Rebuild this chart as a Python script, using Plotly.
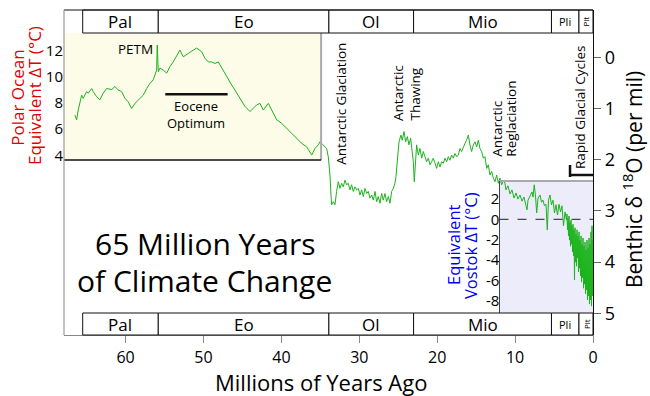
import plotly.graph_objects as go

# ---------------- data (age in Myr before present, benthic d18O in per mil) ----------------
age_paleo_eo = [66.50, 66.28, 66.07, 65.64, 65.43, 64.99, 64.79, 64.35, 64.15, 63.71,
                63.29, 62.86, 62.43, 61.78, 61.36, 60.94, 60.50, 60.08, 59.65, 59.22,
                58.79, 58.15, 57.73, 57.29, 56.87, 56.44, 56.23, 56.01, 55.93, 55.80,
                55.58, 55.16, 54.72, 54.30, 53.88, 53.23, 53.02, 52.59, 51.95, 51.31,
                50.87, 50.23, 49.81, 49.38, 48.95, 48.52, 48.10, 47.66, 47.24, 46.82,
                46.38, 45.96, 45.31, 44.67, 44.03, 43.61, 43.17, 42.75, 42.32, 41.68,
                41.25, 40.60, 39.96, 39.32, 38.68, 38.04, 37.39, 36.75, 36.11, 35.69,
                35.26, 35.04, 34.62, 34.19, 33.98]
d18o_paleo_eo = [1.13, 1.22, 1.03, 0.74, 0.80, 0.67, 0.70, 0.61, 0.67, 0.77,
                 0.83, 0.70, 0.61, 0.63, 0.57, 0.64, 0.67, 0.80, 0.87, 1.00,
                 0.90, 0.80, 0.74, 0.61, 0.51, 0.44, 0.35, 0.25, -0.24, 0.28,
                 0.21, 0.25, 0.31, 0.18, 0.09, -0.08, -0.14, -0.01, -0.08, -0.14,
                 -0.18, -0.11, 0.02, 0.09, 0.09, 0.12, 0.09, 0.21, 0.31, 0.41,
                 0.54, 0.64, 0.80, 0.96, 1.06, 1.00, 0.93, 0.90, 1.03, 0.90,
                 1.03, 1.22, 1.29, 1.39, 1.48, 1.58, 1.68, 1.75, 1.91, 1.78,
                 1.71, 1.65, 1.71, 1.78, 1.94]

age_oli_mio = [33.76, 33.63, 33.55, 33.33, 33.12, 32.91, 32.69, 32.48, 32.26, 32.05,
               31.84, 31.62, 31.41, 31.19, 30.98, 30.77, 30.55, 30.34, 30.12, 29.91,
               29.70, 29.48, 29.27, 29.05, 28.84, 28.63, 28.41, 28.20, 27.98, 27.77,
               27.56, 27.34, 27.13, 26.92, 26.70, 26.49, 26.27, 26.06, 25.84, 25.63,
               25.42, 25.29, 25.07, 24.90, 24.65, 24.48, 24.26, 24.05, 23.83, 23.62,
               23.41, 23.19, 23.06, 22.94, 22.76, 22.64, 22.42, 22.21, 21.99, 21.78,
               21.57, 21.35, 21.14, 20.92, 20.71, 20.50, 20.28, 20.07, 19.86, 19.64,
               19.43, 19.21, 19.00, 18.78, 18.57, 18.36, 18.14, 17.93, 17.72, 17.50,
               17.29, 17.07, 16.86, 16.65, 16.43, 16.22, 16.00, 15.79, 15.58, 15.36,
               15.15, 14.93, 14.72, 14.51, 14.29, 14.08, 13.86, 13.65, 13.44, 13.22,
               13.01, 12.79, 12.58, 12.37, 12.15, 11.94, 11.72, 11.51, 11.30]
d18o_oli_mio = [2.30, 2.69, 2.88, 2.82, 2.88, 2.62, 2.43, 2.56, 2.46, 2.53,
                2.40, 2.49, 2.46, 2.59, 2.49, 2.62, 2.53, 2.59, 2.56, 2.69,
                2.59, 2.72, 2.56, 2.66, 2.62, 2.75, 2.69, 2.79, 2.62, 2.82,
                2.72, 2.85, 2.66, 2.79, 2.66, 2.82, 2.72, 2.85, 2.62, 2.56,
                2.46, 2.33, 1.91, 1.65, 1.52, 1.62, 1.45, 1.65, 1.55, 1.71,
                1.58, 1.84, 2.04, 2.43, 1.97, 1.71, 1.91, 1.78, 1.97, 1.84,
                1.94, 2.04, 1.97, 2.10, 2.04, 1.97, 2.07, 2.17, 2.04, 2.14,
                2.04, 2.07, 1.97, 2.04, 1.94, 2.01, 1.91, 1.97, 1.88, 1.94,
                1.91, 1.78, 1.84, 1.75, 1.68, 1.62, 1.52, 1.71, 1.84, 1.71,
                1.65, 1.75, 1.62, 1.78, 1.84, 1.97, 1.94, 2.17, 2.10, 2.30,
                2.23, 2.36, 2.43, 2.30, 2.46, 2.36, 2.49, 2.40, 2.46]

age_late_mio_pli = [11.17, 10.91, 10.65, 10.40, 10.14, 9.88, 9.63, 9.37, 9.11, 8.86,
                    8.60, 8.47, 8.34, 8.09, 7.83, 7.70, 7.54, 7.38, 7.23, 7.06,
                    6.80, 6.61, 6.42, 6.23, 6.03, 5.87, 5.71, 5.52, 5.33, 5.13,
                    4.94, 4.75, 4.56, 4.36, 4.17, 3.98, 3.79, 3.59, 3.40]
d18o_late_mio_pli = [2.59, 2.51, 2.67, 2.59, 2.75, 2.65, 2.77, 2.69, 2.81, 2.73,
                     2.90, 2.98, 2.79, 2.71, 2.63, 2.73, 2.49, 2.71, 3.04, 2.75,
                     2.69, 2.83, 2.79, 2.90, 2.87, 3.37, 2.79, 2.69, 2.88, 2.79,
                     3.04, 2.88, 3.08, 2.87, 3.02, 2.90, 3.29, 3.02, 3.18]

age_glacial = [3.338, 3.273, 3.209, 3.145, 3.081, 3.017, 2.953, 2.888, 2.824, 2.760,
               2.696, 2.632, 2.567, 2.503, 2.439, 2.375, 2.311, 2.246, 2.182, 2.118,
               2.054, 1.990, 1.926, 1.861, 1.797, 1.733, 1.669, 1.605, 1.540, 1.476,
               1.412, 1.348, 1.284, 1.220, 1.155, 1.091, 1.027, 0.963, 0.899, 0.834,
               0.770, 0.706, 0.642, 0.578, 0.513, 0.449, 0.385, 0.321, 0.257, 0.193,
               0.128, 0.064, 0.013]
d18o_glacial = [3.06, 3.37, 3.14, 3.49, 3.10, 3.57, 3.22, 3.69, 3.18, 3.65,
                3.29, 3.80, 3.26, 3.88, 3.37, 4.35, 3.33, 4.00, 3.45, 4.08,
                3.37, 3.92, 3.49, 4.19, 3.41, 4.12, 3.57, 4.27, 3.49, 4.39,
                3.65, 4.31, 3.53, 4.51, 3.69, 4.43, 3.61, 4.62, 3.76, 4.54,
                3.57, 4.74, 3.72, 4.66, 3.53, 4.82, 3.65, 4.74, 3.41, 4.86,
                3.29, 4.66, 3.57]

epoch_names = ["Pal", "Eo", "Ol", "Mio", "Pli", "Plt"]
epoch_start = [65.5, 55.8, 33.9, 23.03, 5.33, 1.8]
epoch_end = [55.8, 33.9, 23.03, 5.33, 1.8, 0.0]

x_ticks = [60, 50, 40, 30, 20, 10, 0]
d18o_ticks = [0, 1, 2, 3, 4, 5]
polar_ticks = [4, 6, 8, 10, 12]
vostok_ticks = [-8, -6, -4, -2, 0, 2]

age_myr = age_paleo_eo + age_oli_mio + age_late_mio_pli + age_glacial
d18o_permil = d18o_paleo_eo + d18o_oli_mio + d18o_late_mio_pli + d18o_glacial

# ---------------- layout helpers ----------------
W, H = 650, 396
L, R, T, B = 64, 593, 10, 335
FONT = "Open Sans"


def pp(x, y):
    """pixel -> paper coordinates"""
    return (x - L) / (R - L), (B - y) / (B - T)


fig = go.Figure()
fig.add_trace(go.Scatter(x=age_myr, y=d18o_permil, mode="lines",
                         line=dict(color="#1cb31c", width=1),
                         yaxis="y", showlegend=False, hoverinfo="skip"))

shapes = []
# Polar ocean (yellow) box
yb_top = pp(0, 33)[1]
yb_bot = pp(0, 160)[1]
shapes.append(dict(type="rect", xref="x", yref="paper", x0=67.9, x1=34.9,
                   y0=yb_bot, y1=yb_top, fillcolor="#fcfce9",
                   line=dict(width=0), layer="below"))
shapes.append(dict(type="line", xref="x", yref="paper", x0=34.9, x1=34.9,
                   y0=yb_bot, y1=yb_top, line=dict(color="#aaaaaa", width=2)))
shapes.append(dict(type="line", xref="x", yref="paper", x0=67.9, x1=34.9,
                   y0=yb_bot, y1=yb_bot, line=dict(color="#111111", width=1.3)))
# Vostok (blue) box
bb_top = pp(0, 181)[1]
bb_bot = pp(0, 313)[1]
shapes.append(dict(type="rect", xref="x", yref="paper", x0=12, x1=0,
                   y0=bb_bot, y1=bb_top, fillcolor="#ececfa",
                   line=dict(width=0), layer="below"))
shapes.append(dict(type="line", xref="x", yref="paper", x0=12, x1=0,
                   y0=bb_top, y1=bb_top, line=dict(color="#aaaaaa", width=2)))
shapes.append(dict(type="line", xref="x", yref="paper", x0=12, x1=12,
                   y0=bb_bot, y1=bb_top, line=dict(color="#444444", width=1)))
shapes.append(dict(type="line", xref="x", yref="y3", x0=12, x1=0, y0=0, y1=0,
                   line=dict(color="#222222", width=1, dash="dash")))

# epoch rows
top_y0, top_y1 = pp(0, 33)[1], pp(0, 10)[1]
bot_y0, bot_y1 = pp(0, 335)[1], pp(0, 313)[1]
annotations = []
for name, s, e in zip(epoch_names, epoch_start, epoch_end):
    for y0, y1 in ((top_y0, top_y1), (bot_y0, bot_y1)):
        shapes.append(dict(type="rect", xref="x", yref="paper", x0=s, x1=e,
                           y0=y0, y1=y1, fillcolor="white",
                           line=dict(color="#111111", width=1)))
        if name == "Plt":
            annotations.append(dict(x=(s + e) / 2, y=(y0 + y1) / 2, xref="x", yref="paper",
                                    text=name, textangle=-90, showarrow=False,
                                    xanchor="center", yanchor="middle",
                                    font=dict(size=8, family=FONT, color="black")))
        else:
            fs = 11 if name == "Pli" else 17
            annotations.append(dict(x=(s + e) / 2, y=(y0 + y1) / 2, xref="x", yref="paper",
                                    text=name, showarrow=False,
                                    xanchor="center", yanchor="middle",
                                    font=dict(size=fs, family=FONT, color="black")))
# top frame line across whole width, left spine
shapes.append(dict(type="line", xref="paper", yref="paper", x0=0, x1=1, y0=1, y1=1,
                   line=dict(color="#111111", width=1)))
shapes.append(dict(type="line", xref="paper", yref="paper", x0=0, x1=0, y0=0, y1=1,
                   line=dict(color="#999999", width=1.2)))

# Eocene optimum bar (in polar-ocean temperature units)
shapes.append(dict(type="line", xref="x", yref="y2", x0=54.9, x1=46.9,
                   y0=8.67, y1=8.67, line=dict(color="#111111", width=2.5)))
# rapid glacial cycles marker
shapes.append(dict(type="line", xref="x", yref="paper", x0=2.95, x1=0,
                   y0=pp(0, 175)[1], y1=pp(0, 175)[1],
                   line=dict(color="#111111", width=2.5)))
shapes.append(dict(type="line", xref="x", yref="paper", x0=2.95, x1=2.95,
                   y0=pp(0, 177)[1], y1=pp(0, 165)[1],
                   line=dict(color="#111111", width=2.5)))


def ann(x, y, text, size, color="black", angle=0, xa="center", ya="middle"):
    px, py = pp(x, y)
    annotations.append(dict(x=px, y=py, xref="paper", yref="paper", text=text,
                            textangle=angle, showarrow=False, xanchor=xa, yanchor=ya,
                            font=dict(size=size, family=FONT, color=color)))


ann(135, 49, "PETM", 13.5)
ann(196, 114.5, "Eocene<br>Optimum", 13)
ann(340.7, 104, "Antarctic Glaciation", 13.5, angle=-90)
ann(398, 123, "Antarctic", 13.5, angle=-90, ya="bottom")
ann(414, 123, "Thawing", 13.5, angle=-90, ya="bottom")
ann(496.7, 159, "Antarctic", 13.5, angle=-90, ya="bottom")
ann(510.7, 159, "Reglaciation", 13.5, angle=-90, ya="bottom")
ann(580, 108, "Rapid Glacial Cycles", 13.5, angle=-90)
ann(205, 243, "65 Million Years", 30)
ann(204, 280, "of Climate Change", 30)
ann(16.7, 98, "Polar Ocean", 17, color="#e00000", angle=-90)
ann(35, 96, "Equivalent \u0394T (\u00b0C)", 17, color="#e00000", angle=-90)
ann(453, 245, "Equivalent", 16.5, color="#0000ee", angle=-90)
ann(470, 246, "Vostok \u0394T (\u00b0C)", 16.5, color="#0000ee", angle=-90)
ann(633, 180, "Benthic \u03b4 <sup>18</sup>O (per mil)", 21, angle=-90)
ann(321, 382, "Millions of Years Ago", 22)

# y ranges computed from pixel calibration
d_top = (T - 57.3) / 51.2
d_bot = (B - 57.3) / 51.2
p_top = 12 + (50.7 - T) / 13.075
p_bot = 12 - (B - 50.7) / 13.075
v_top = (219.3 - T) / 10.2
v_bot = -(B - 219.3) / 10.2

fig.update_layout(
    width=W, height=H, template="none",
    margin=dict(l=L, r=W - R, t=T, b=H - B, pad=0),
    paper_bgcolor="white", plot_bgcolor="white",
    showlegend=False,
    font=dict(family=FONT, color="black"),
    xaxis=dict(range=[67.9, 0], tickvals=x_ticks, ticks="outside", ticklen=7,
               tickcolor="#888888", tickwidth=1, showline=True, linecolor="#888888",
               linewidth=1.2, showgrid=False, zeroline=False, automargin=False,
               tickfont=dict(size=16, family=FONT), ticklabelstandoff=1),
    yaxis=dict(range=[d_bot, d_top], side="right", tickvals=d18o_ticks, ticks="outside",
               ticklen=7, tickcolor="#666666", showline=True, linecolor="#111111",
               linewidth=1.2, showgrid=False, zeroline=False, automargin=False,
               tickfont=dict(size=18, family=FONT)),
    yaxis2=dict(range=[p_bot, p_top], overlaying="y", side="left", anchor="x",
                tickvals=polar_ticks, ticks="", showline=False, showgrid=False,
                zeroline=False, automargin=False, tickfont=dict(size=15, family=FONT)),
    yaxis3=dict(range=[v_bot, v_top], overlaying="y", side="left", anchor="free",
                position=(499.3 - L) / (R - L), tickvals=vostok_ticks,
                ticktext=[str(v) for v in vostok_ticks], ticks="", showline=False,
                showgrid=False, zeroline=False, automargin=False,
                tickfont=dict(size=15, family=FONT)),
    shapes=shapes, annotations=annotations,
)

fig.write_html("out.html", config={"displayModeBar": False},
               post_script="document.body.style.margin='0';document.body.style.overflow='hidden';")
